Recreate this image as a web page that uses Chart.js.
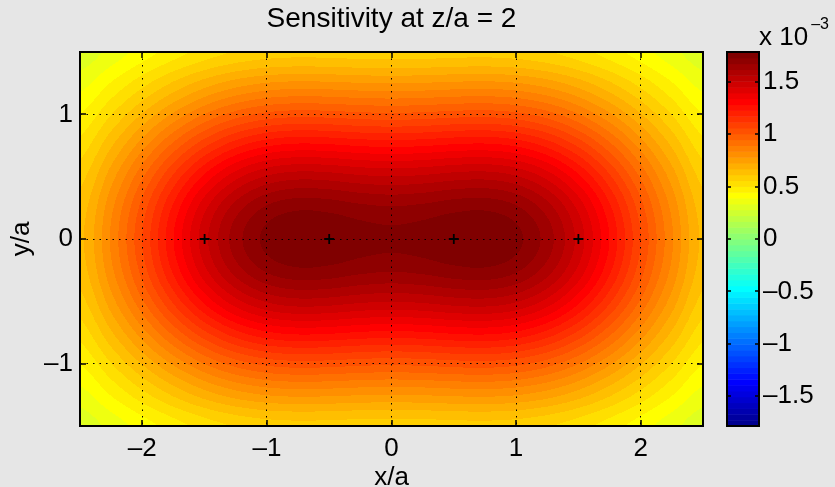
<!DOCTYPE html>
<html>
<head>
<meta charset="utf-8">
<title>Sensitivity at z/a = 2</title>
<script src="https://cdn.jsdelivr.net/npm/chart.js@4.4.1/dist/chart.umd.min.js"></script>
<style>
  html, body { margin: 0; padding: 0; background: #e6e6e6; }
  #wrap { position: relative; width: 835px; height: 487px; overflow: hidden; }
  #wrap canvas { position: absolute; left: 0; top: 0; }
</style>
</head>
<body>
<div id="wrap">
  <canvas id="field" width="835" height="487"></canvas>
  <canvas id="colorbar" width="835" height="487"></canvas>
</div>
<script>
// Sensitivity (x 10^-3) on the quadrant x >= 0, y >= 0.
// The field is symmetric in x and y, so the rest is mirrored.
const xNodes = [0, 0.25, 0.5, 0.75, 1, 1.25, 1.5, 1.75, 2, 2.25, 2.5];
const yNodes = [0, 0.25, 0.5, 0.75, 1, 1.25, 1.5];
const sensitivity = [
    [1.7438, 1.7551, 1.7779, 1.7852, 1.7479, 1.6485, 1.4877, 1.2831, 1.0609, 0.8461, 0.6562],
    [1.6808, 1.6915, 1.7133, 1.7204, 1.6851, 1.5906, 1.4373, 1.2418, 1.0289, 0.8227, 0.6397],
    [1.5091, 1.5184, 1.5375, 1.5440, 1.5140, 1.4324, 1.2992, 1.1282, 0.9406, 0.7573, 0.5932],
    [1.2717, 1.2792, 1.2944, 1.3001, 1.2769, 1.2124, 1.1061, 0.9681, 0.8149, 0.6633, 0.5254],
    [1.0166, 1.0221, 1.0335, 1.0381, 1.0215, 0.9744, 0.8954, 0.7915, 0.6744, 0.5563, 0.4471],
    [0.7802, 0.7840, 0.7919, 0.7953, 0.7843, 0.7518, 0.6966, 0.6226, 0.5377, 0.4505, 0.3679],
    [0.5813, 0.5838, 0.5891, 0.5916, 0.5845, 0.5632, 0.5262, 0.4758, 0.4168, 0.3548, 0.2948],
];

// electrode positions on the surface
const electrodeX = [-1.5, -0.5, 0.5, 1.5];
const electrodeY = [0, 0, 0, 0];

const xTicks = [-2, -1, 0, 1, 2];
const yTicks = [-1, 0, 1];
const colorTicks = [-1.5, -1, -0.5, 0, 0.5, 1, 1.5];
const colorLimit = 1.7865;

const FONT = "'Liberation Sans', Arial, Helvetica, sans-serif";
const nColors = 64;

// full grid from the quadrant
const gridX = xNodes.slice(1).reverse().map(v => -v).concat(xNodes);
const gridY = yNodes.slice(1).reverse().map(v => -v).concat(yNodes);
const nx = xNodes.length - 1, ny = yNodes.length - 1;
const grid = gridY.map((_, j) => gridX.map((_, i) => sensitivity[Math.abs(j - ny)][Math.abs(i - nx)]));

const fmt = v => (v < 0 ? "\u2013" + Math.abs(v) : String(v));

// matlab jet, k = 1..64
function jet(k) {
    const r = k <= 24 ? 0 : k <= 40 ? (k - 24) / 16 : k <= 56 ? 1 : (72 - k) / 16;
    const g = k <= 8 ? 0 : k <= 24 ? (k - 8) / 16 : k <= 40 ? 1 : k <= 56 ? (56 - k) / 16 : 0;
    const b = k <= 8 ? (k + 8) / 16 : k <= 24 ? 1 : k <= 40 ? (40 - k) / 16 : 0;
    return [Math.round(r * 255), Math.round(g * 255), Math.round(b * 255)];
}
const palette = [];
for (let k = 1; k <= nColors; k++) palette.push(jet(k));

function level(v) {
    let k = Math.floor((v + colorLimit) / (2 * colorLimit) * nColors);
    return Math.min(nColors - 1, Math.max(0, k));
}

function cr(t) {
    const t2 = t * t, t3 = t2 * t;
    return [(-t3 + 2 * t2 - t) / 2, (3 * t3 - 5 * t2 + 2) / 2, (-3 * t3 + 4 * t2 + t) / 2, (t3 - t2) / 2];
}

// bicubic value between grid nodes
function sample(x, y) {
    const dx = gridX[1] - gridX[0], dy = gridY[1] - gridY[0];
    const u = (x - gridX[0]) / dx, v = (y - gridY[0]) / dy;
    const i0 = Math.min(Math.floor(u), gridX.length - 2), j0 = Math.min(Math.floor(v), gridY.length - 2);
    const wu = cr(u - i0), wv = cr(v - j0);
    let s = 0;
    for (let b = 0; b < 4; b++) {
        const j = Math.min(gridY.length - 1, Math.max(0, j0 - 1 + b));
        let row = 0;
        for (let a = 0; a < 4; a++) {
            const i = Math.min(gridX.length - 1, Math.max(0, i0 - 1 + a));
            row += wu[a] * grid[j][i];
        }
        s += wv[b] * row;
    }
    return s;
}

const fieldPlugin = {
    id: "field",
    beforeDraw(chart) {
        const { ctx, chartArea: a, scales } = chart;
        const w = Math.round(a.right - a.left), h = Math.round(a.bottom - a.top);
        const off = document.createElement("canvas");
        off.width = w;
        off.height = h;
        const octx = off.getContext("2d");
        const img = octx.createImageData(w, h);
        const xs = [];
        for (let px = 0; px < w; px++) xs.push(scales.x.getValueForPixel(a.left + px + 0.5));
        for (let py = 0; py < h; py++) {
            const yv = scales.y.getValueForPixel(a.top + py + 0.5);
            for (let px = 0; px < w; px++) {
                const c = palette[level(sample(xs[px], yv))];
                const o = (py * w + px) * 4;
                img.data[o] = c[0];
                img.data[o + 1] = c[1];
                img.data[o + 2] = c[2];
                img.data[o + 3] = 255;
            }
        }
        octx.putImageData(img, 0, 0);
        ctx.drawImage(off, a.left, a.top);
    },
};

// box and inward ticks on all four sides
const framePlugin = {
    id: "frame",
    afterDraw(chart) {
        const { ctx, chartArea: a, scales } = chart;
        ctx.save();
        ctx.strokeStyle = "#000";
        ctx.lineWidth = 1.5;
        ctx.beginPath();
        xTicks.forEach(v => {
            const p = Math.round(scales.x.getPixelForValue(v));
            ctx.moveTo(p, a.bottom); ctx.lineTo(p, a.bottom - 6);
            ctx.moveTo(p, a.top); ctx.lineTo(p, a.top + 6);
        });
        yTicks.forEach(v => {
            const p = Math.round(scales.y.getPixelForValue(v));
            ctx.moveTo(a.left, p); ctx.lineTo(a.left + 6, p);
            ctx.moveTo(a.right, p); ctx.lineTo(a.right - 6, p);
        });
        ctx.stroke();
        ctx.lineWidth = 2;
        ctx.strokeRect(a.left, a.top, a.right - a.left, a.bottom - a.top);
        ctx.restore();
    },
};

const tickFont = { family: FONT, size: 26 };

new Chart(document.getElementById("field"), {
    type: "scatter",
    data: {
        datasets: [{
            data: electrodeX.map((x, i) => ({ x: x, y: electrodeY[i] })),
            pointStyle: "cross",
            pointRadius: 5,
            borderWidth: 1.8,
            borderColor: "#000",
            backgroundColor: "#000",
        }],
    },
    options: {
        responsive: false,
        animation: false,
        devicePixelRatio: 1,
        layout: { padding: { left: 0, right: 132, top: 0, bottom: 0 } },
        plugins: {
            legend: { display: false },
            tooltip: { enabled: false },
            title: {
                display: true,
                fullSize: false,
                text: "Sensitivity at z/a = 2",
                color: "#000",
                font: { family: FONT, size: 28, weight: "normal", lineHeight: 1.2 },
                padding: { top: 2, bottom: 16.4 },
            },
        },
        scales: {
            x: {
                type: "linear",
                min: -2.5,
                max: 2.5,
                afterBuildTicks: s => { s.ticks = xTicks.map(v => ({ value: v })); },
                afterFit: s => { s.height = 61; },
                grid: { color: "#000", lineWidth: 1, drawTicks: false },
                border: { display: false, dash: [1.5, 5] },
                ticks: { color: "#000", font: tickFont, padding: 7, maxRotation: 0, callback: fmt },
                title: { display: true, text: "x/a", color: "#000", font: { family: FONT, size: 26, lineHeight: 1 }, padding: { top: 0, bottom: -4 } },
            },
            y: {
                type: "linear",
                min: -1.5,
                max: 1.5,
                afterBuildTicks: s => { s.ticks = yTicks.map(v => ({ value: v })); },
                afterFit: s => { s.width = 80; },
                grid: { color: "#000", lineWidth: 1, drawTicks: false },
                border: { display: false, dash: [1.5, 5] },
                ticks: { color: "#000", font: tickFont, padding: 7, callback: fmt },
                title: { display: true, text: "y/a", color: "#000", font: { family: FONT, size: 26, lineHeight: 1 }, padding: { top: 9, bottom: 0 } },
            },
        },
    },
    plugins: [fieldPlugin, framePlugin],
});

// colour bar beside the field
const colorbarPlugin = {
    id: "colorbar",
    beforeDraw(chart) {
        const { ctx, chartArea: a, scales: { y } } = chart;
        const step = 2 * colorLimit / nColors;
        for (let k = 0; k < nColors; k++) {
            const y0 = y.getPixelForValue(-colorLimit + k * step);
            const y1 = y.getPixelForValue(-colorLimit + (k + 1) * step);
            const c = palette[k];
            ctx.fillStyle = "rgb(" + c[0] + "," + c[1] + "," + c[2] + ")";
            ctx.fillRect(a.left, y1, a.right - a.left, y0 - y1 + 0.5);
        }
    },
    afterDraw(chart) {
        const { ctx, chartArea: a, scales: { y } } = chart;
        ctx.save();
        ctx.strokeStyle = "#000";
        ctx.lineWidth = 1.5;
        ctx.beginPath();
        colorTicks.forEach(v => {
            const p = Math.round(y.getPixelForValue(v));
            ctx.moveTo(a.left, p); ctx.lineTo(a.left + 4, p);
            ctx.moveTo(a.right, p); ctx.lineTo(a.right - 4, p);
        });
        ctx.stroke();
        ctx.lineWidth = 2;
        ctx.strokeRect(a.left, a.top, a.right - a.left, a.bottom - a.top);
        ctx.fillStyle = "#000";
        ctx.textBaseline = "alphabetic";
        ctx.textAlign = "left";
        ctx.font = "26px " + FONT;
        ctx.fillText("x 10", a.right, 45);
        const w = ctx.measureText("x 10").width;
        ctx.font = "16px " + FONT;
        ctx.fillText("\u20133", a.right + w + 3, 29);
        ctx.restore();
    },
};

new Chart(document.getElementById("colorbar"), {
    type: "scatter",
    data: { datasets: [] },
    options: {
        responsive: false,
        animation: false,
        devicePixelRatio: 1,
        layout: { padding: { left: 727, right: 0, top: 52, bottom: 61 } },
        plugins: { legend: { display: false }, tooltip: { enabled: false } },
        scales: {
            x: { type: "linear", display: false, min: 0, max: 1 },
            y: {
                type: "linear",
                position: "right",
                min: -colorLimit,
                max: colorLimit,
                afterBuildTicks: s => { s.ticks = colorTicks.map(v => ({ value: v })); },
                afterFit: s => { s.width = 76; },
                grid: { display: false, drawTicks: false },
                border: { display: false },
                ticks: { color: "#000", font: tickFont, padding: 4, callback: fmt },
            },
        },
    },
    plugins: [colorbarPlugin],
});
</script>
</body>
</html>
